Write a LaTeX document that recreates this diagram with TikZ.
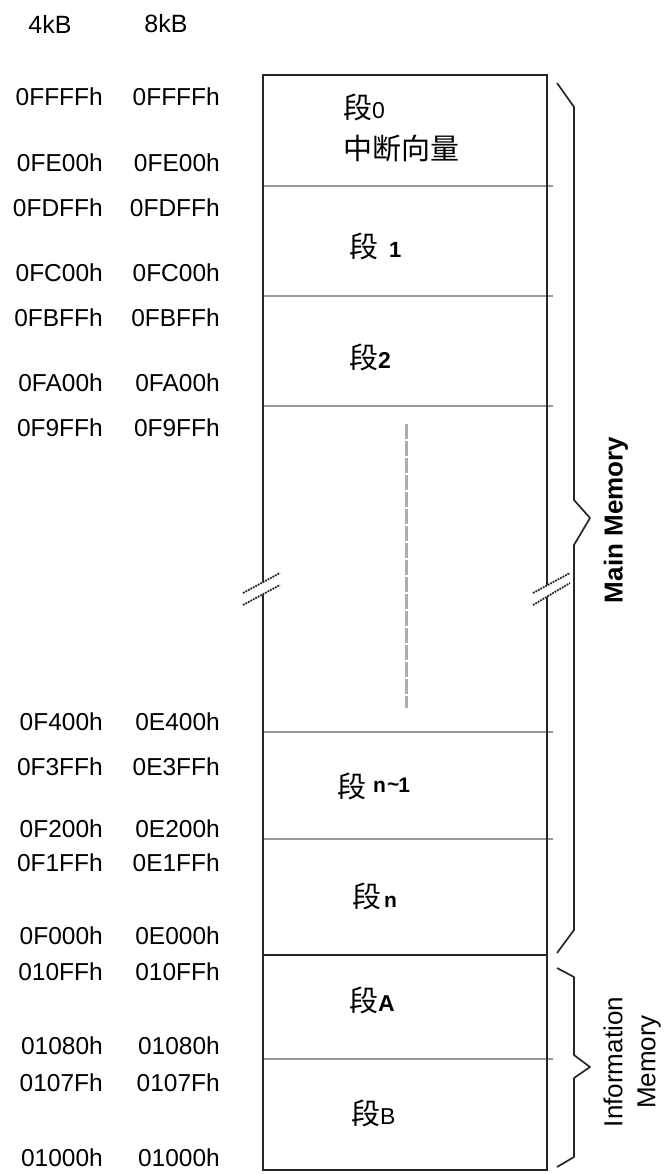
\documentclass[tikz,border=0pt]{standalone}
\usepackage{fontspec}
\setmainfont{Liberation Sans}
\newfontfamily\cjk{Noto Sans CJK SC}
\begin{document}
\begin{tikzpicture}[x=1pt,y=-1pt,
  addr/.style={anchor=east,inner sep=0pt,font=\fontsize{24.5}{28}\selectfont},
  hdr/.style={inner sep=0pt,font=\fontsize{25}{28}\selectfont},
  segtxt/.style={anchor=west,inner sep=0pt,font=\fontsize{29}{34}\selectfont\cjk},
  divline/.style={draw=black!40,line width=1.6pt},
  boxline/.style={draw=black!85,line width=2pt},
  bracel/.style={draw=black!85,line width=1.7pt,line join=round},
  breakl/.style={draw=black!85,line width=1.8pt,densely dotted},
  vlabel/.style={rotate=90,inner sep=0pt,font=\fontsize{26}{30}\selectfont}]
\useasboundingbox (0,0) rectangle (668,1174);

% headers
\node[hdr] (h4) at (50,24) {4kB};
\node[hdr] (h8) at (166,24) {8kB};

% address labels
\foreach \y/\a/\b [count=\i] in {
  97/0FFFFh/0FFFFh, 163/0FE00h/0FE00h, 208/0FDFFh/0FDFFh, 273/0FC00h/0FC00h,
  318/0FBFFh/0FBFFh, 383/0FA00h/0FA00h, 428/0F9FFh/0F9FFh, 722/0F400h/0E400h,
  767/0F3FFh/0E3FFh, 829/0F200h/0E200h, 863/0F1FFh/0E1FFh, 936/0F000h/0E000h,
  972/010FFh/010FFh, 1046/01080h/01080h, 1083/0107Fh/0107Fh, 1158/01000h/01000h}{
  \node[addr] (a\i) at (103,\y) {\a};
  \node[addr] (b\i) at (220,\y) {\b};
}

% coordinates of the memory box
\coordinate (tl) at (263,75);
\coordinate (tr) at (547,75);
\coordinate (bl) at (263,1170);
\coordinate (br) at (547,1170);

% gray dividers
\foreach \y in {186,296,406,732,839,1059}{
  \draw[divline] (263,\y) -- (553,\y);
}
% outer box
\draw[boxline] (tl) -- (tr) -- (br) -- (bl) -- cycle;
\draw[boxline] (263,955) -- (547,955);

% break marks
\fill[white] (243,593) -- (280,573) -- (280,585) -- (243,605) -- cycle;
\fill[white] (533,593) -- (570,573) -- (570,583) -- (533,605) -- cycle;
\draw[breakl] (243,593) -- (280,573);
\draw[breakl] (243,605) -- (280,585);
\draw[breakl] (533,593) -- (570,573);
\draw[breakl] (533,605) -- (570,583);

% gray dashed continuation line
\draw[draw=black!32,line width=3pt,dash pattern=on 15pt off 2pt] (406,424) -- (406,708);

% segment texts
\node[segtxt] (s0) at (343,107) {段{\fontsize{23}{26}\selectfont\rmfamily 0}};
\node[segtxt] (s0b) at (343,149) {中断向量};
\node[segtxt] (s1) at (349,246) {段\hspace{11pt}{\rmfamily\fontsize{22}{24}\selectfont\bfseries 1}};
\node[segtxt] (s2) at (349,357) {段{\rmfamily\fontsize{23}{24}\selectfont\bfseries 2}};
\node[segtxt] (sn1) at (337,786) {段\hspace{7pt}\raisebox{5pt}{\rmfamily\fontsize{21}{24}\selectfont\bfseries n\kern1pt\raisebox{1pt}{\textasciitilde}\kern-1pt1}};
\node[segtxt] (sn) at (352,896) {段{\rmfamily\fontsize{21}{24}\selectfont\bfseries\kern3pt n}};
\node[segtxt] (sA) at (349,1000) {段{\rmfamily\fontsize{23}{24}\selectfont\bfseries A}};
\node[segtxt] (sB) at (351,1113) {段{\rmfamily\fontsize{23}{24}\selectfont B}};

% braces
\draw[bracel] (557,83) -- (574,107) -- (574,500) -- (590,518) -- (574,545) -- (574,930) -- (557,953);
\draw[bracel] (557,968) -- (574,977) -- (574,1055) -- (590,1067) -- (574,1078) -- (574,1157) -- (557,1167);

% side labels
\node[vlabel,font=\fontsize{26}{30}\selectfont\bfseries] (mm) at (616,520) {Main Memory};
\node[vlabel] (im1) at (613,1062) {Information};
\node[vlabel] (im2) at (649,1062) {Memory};
\end{tikzpicture}
\end{document}
